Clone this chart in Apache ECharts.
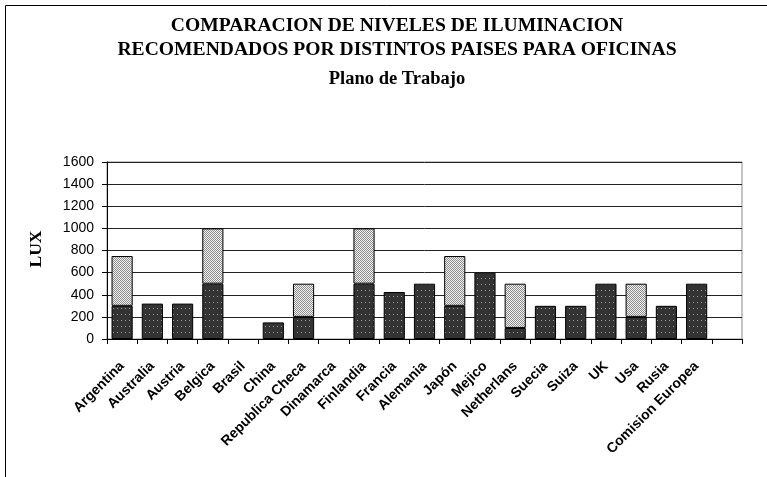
<!DOCTYPE html>
<html>
<head>
<meta charset="utf-8">
<script src="https://cdn.jsdelivr.net/npm/echarts@6/dist/echarts.min.js"></script>
<style>
html,body{margin:0;padding:0;background:#fff;}
#c{width:767px;height:477px;}
</style>
</head>
<body>
<div id="c"></div>
<script>
var categories = ['Argentina','Australia','Austria','Belgica','Brasil','China','Republica Checa','Dinamarca','Finlandia','Francia','Alemania','Japón','Mejico','Netherlans','Suecia','Suiza','UK','Usa','Rusia','Comision Europea',''];
var minLux = [300,320,320,500,null,150,200,null,500,425,500,300,600,100,300,300,500,200,300,500,null];
var extraLux = [450,null,null,500,null,null,300,null,500,null,null,450,null,400,null,null,null,300,null,null,null];
var yTicks = {min:0, max:1600, interval:200};
var titleLines = ['COMPARACION DE NIVELES DE ILUMINACION','RECOMENDADOS POR DISTINTOS PAISES PARA OFICINAS','Plano de Trabajo'];

function makePattern(w, h, bg, fg, pts){
  var c = document.createElement('canvas');
  c.width = w; c.height = h;
  var g = c.getContext('2d');
  g.fillStyle = bg; g.fillRect(0,0,w,h);
  g.fillStyle = fg;
  pts.forEach(function(p){ g.fillRect(p[0],p[1],1,1); });
  return c;
}
var darkPat = makePattern(4,6,'#333333','#9a9a9a',[[1,2]]);
var lightPat = makePattern(2,2,'#f2f2f2','#8c8c8c',[[0,0],[1,1]]);

var chart = echarts.init(document.getElementById('c'), null, {renderer:'canvas'});
chart.setOption({
  animation:false,
  backgroundColor:'#ffffff',
  grid:{left:107, right:25, top:162, bottom:138, show:true, borderColor:'#8a8a8a', borderWidth:1, backgroundColor:'transparent'},
  graphic:[
    {type:'rect', shape:{x:5.5,y:5.5,width:900,height:600}, style:{fill:'none', stroke:'#000', lineWidth:1}, silent:true, z:-10},
    {type:'text', x:397, y:25.5, style:{text:titleLines[0], font:'bold 19.6px "Liberation Serif"', fill:'#000', textAlign:'center', textVerticalAlign:'middle'}},
    {type:'text', x:397, y:50, style:{text:titleLines[1], font:'bold 19.6px "Liberation Serif"', fill:'#000', textAlign:'center', textVerticalAlign:'middle'}},
    {type:'text', x:397, y:79, style:{text:titleLines[2], font:'bold 18.5px "Liberation Serif"', fill:'#000', textAlign:'center', textVerticalAlign:'middle'}},
    {type:'text', x:36.5, y:249, rotation:Math.PI/2, style:{text:'LUX', font:'bold 17.5px "Liberation Serif"', fill:'#000', textAlign:'center', textVerticalAlign:'middle'}}
  ],
  xAxis:{
    type:'category', data:categories, boundaryGap:true,
    axisLine:{lineStyle:{color:'#000', width:1}},
    axisTick:{show:true, length:5, inside:false, alignWithLabel:false, lineStyle:{color:'#000'}},
    axisLabel:{interval:0, rotate:45, margin:25, fontFamily:'Liberation Sans', fontWeight:'bold', fontSize:14, color:'#000'},
    splitLine:{show:false}
  },
  yAxis:{
    type:'value', min:yTicks.min, max:yTicks.max, interval:yTicks.interval,
    axisLine:{show:true, lineStyle:{color:'#000', width:1}},
    axisTick:{show:true, length:5, inside:false, lineStyle:{color:'#000'}},
    axisLabel:{margin:13, fontFamily:'Liberation Sans', fontSize:14, color:'#000', formatter:function(v){ return String(v); }},
    splitLine:{show:true, lineStyle:{color:'#222', width:1}}
  },
  series:[
    {type:'bar', stack:'lux', data:minLux, barCategoryGap:'30%',
     itemStyle:{color:{image:darkPat, repeat:'repeat'}, borderColor:'#000', borderWidth:1}},
    {type:'bar', stack:'lux', data:extraLux, barCategoryGap:'30%',
     itemStyle:{color:{image:lightPat, repeat:'repeat'}, borderColor:'#000', borderWidth:1}}
  ]
});
</script>
</body>
</html>
